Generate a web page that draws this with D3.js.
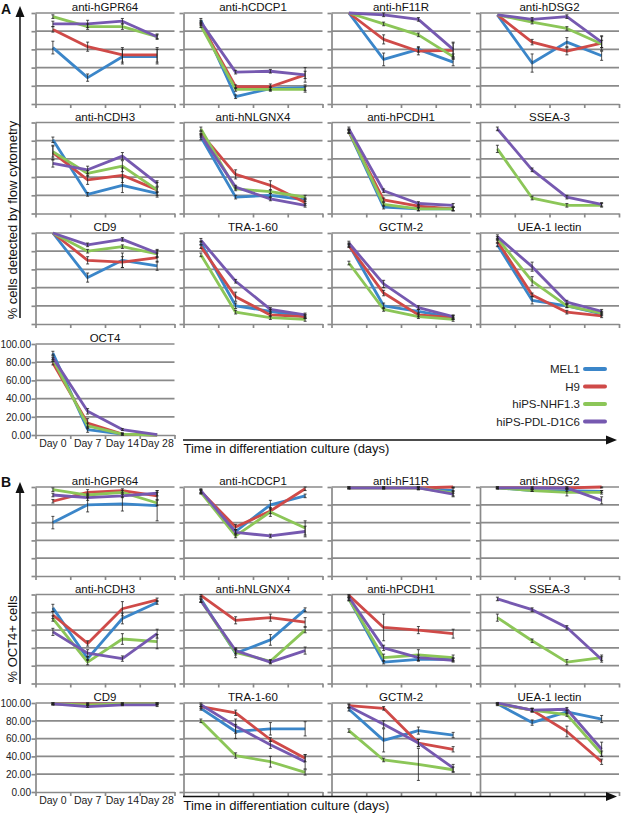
<!DOCTYPE html>
<html><head><meta charset="utf-8">
<script src="https://cdn.jsdelivr.net/npm/d3@7"></script>
<style>body{margin:0;background:#fff}svg{display:block;font-family:"Liberation Sans",Arial,sans-serif}</style>
</head><body><svg id="c" width="622" height="814"></svg>
<script>
// ---------- data ----------
const days = ["Day 0", "Day 7", "Day 14", "Day 28"];
const seriesNames = ["MEL1", "H9", "hiPS-NHF1.3", "hiPS-PDL-D1C6"];
const seriesColors = ["#3b86c9", "#cf4a48", "#8cc658", "#7659b0"];
const yTicks = [0, 20, 40, 60, 80, 100];

const titlesA = ["anti-hGPR64","anti-hCDCP1","anti-hF11R","anti-hDSG2","anti-hCDH3","anti-hNLGNX4","anti-hPCDH1","SSEA-3","CD9","TRA-1-60","GCTM-2","UEA-1 lectin","OCT4"];
const titlesB = ["anti-hGPR64","anti-hCDCP1","anti-hF11R","anti-hDSG2","anti-hCDH3","anti-hNLGNX4","anti-hPCDH1","SSEA-3","CD9","TRA-1-60","GCTM-2","UEA-1 lectin"];

// each panel: [MEL1, H9, hiPS-NHF1.3, hiPS-PDL-D1C6] values for Day 0/7/14/28
const aGPR64  = [[62,29,52,52],[82,63,54,54],[96,85,85,74],[88,88,91,74]];
const aCDCP1  = [[92,8,17,18],[88,19,19,32],[86,16,16,16],[90,35,36,32]];
const aF11R   = [[100,49,60,46],[100,71,58,59],[100,88,76,52],[100,98,93,60]];
const aDSG2   = [[98,45,68,53],[98,68,58,67],[98,90,83,66],[98,93,96,68]];
const aCDH3   = [[81,21,31,22],[67,37,42,26],[68,44,52,26],[55,48,63,33]];
const aNLGNX4 = [[84,18,20,15],[88,43,31,12],[93,27,24,18],[86,29,16,9]];
const aPCDH1  = [[90,7,5,5],[90,15,8,5],[91,10,5,5],[93,25,11,9]];
const aSSEA3  = [null,null,[71,17,9,9],[93,48,18,10]];
const aCD9    = [[100,51,70,64],[100,70,68,73],[100,80,85,77],[100,87,93,78]];
const aTRA160 = [[89,20,14,8],[85,30,10,8],[76,13,7,5],[92,47,16,10]];
const aGCTM2  = [[87,20,14,7],[86,34,10,7],[67,16,8,5],[89,44,18,8]];
const aUEA1   = [[87,26,20,11],[91,32,13,9],[94,47,20,12],[96,63,24,14]];
const aOCT4   = [[90,6,1,0],[79,13,1,0],[83,10,1,0],[85,26,6,0.5]];

const aGPR64Err  = [[7,4,8,8],[3,5,8,8],[2,3,3,2],[3,4,3,3]];
const aCDCP1Err  = [[2,2,2,3],[2,2,3,8],[2,2,2,3],[2,2,2,4]];
const aF11RErr   = [[0,7,3,4],[0,5,4,8],[0,2,2,3],[0,2,2,8]];
const aDSG2Err   = [[0,10,5,5],[0,3,4,8],[0,2,2,4],[0,2,2,6]];
const aCDH3Err   = [[3,2,8,2],[8,5,8,8],[6,3,6,3],[4,4,4,3]];
const aNLGNX4Err = [[3,2,2,2],[2,5,5,3],[2,2,2,2],[2,2,2,2]];
const aPCDH1Err  = [[2,2,2,2],[2,2,2,2],[2,2,2,2],[2,2,2,2]];
const aSSEA3Err  = [null,null,[4,2,2,2],[2,2,2,2]];
const aCD9Err    = [[0,5,8,5],[0,4,6,5],[0,2,2,4],[0,2,2,4]];
const aTRA160Err = [[2,3,2,2],[2,5,2,2],[2,2,2,2],[2,2,2,2]];
const aGCTM2Err  = [[2,3,2,2],[2,3,2,2],[2,2,2,2],[2,4,2,2]];
const aUEA1Err   = [[2,4,2,2],[2,2,2,2],[2,5,2,2],[2,5,2,2]];
const aOCT4Err   = [[2,3,1,0],[2,5,1,0],[2,3,1,0],[2,3,1,0]];

const bGPR64  = [[60,80,81,79],[84,94,96,90],[97,91,94,82],[91,88,90,93]];
const bCDCP1  = [[95,50,80,90],[95,55,73,98],[94,45,72,54],[96,49,45,50]];
const bF11R   = [[99,99,99,96],[99,99,99,100],[99,99,99,93],[99,99,99,92]];
const bDSG2   = [[99,96,96,95],[99,99,99,100],[99,96,94,94],[99,99,99,85]];
const bCDH3   = [[85,28,73,91],[77,45,84,94],[73,24,50,47],[58,34,28,56]];
const bNLGNX4 = [[95,34,49,83],[99,71,74,69],[93,35,25,60],[93,37,24,37]];
const bPCDH1  = [[95,24,27,27],[99,63,60,56],[95,29,32,29],[97,40,29,26]];
const bSSEA3  = [null,null,[74,48,24,29],[95,83,63,27]];
const bCD9    = [[99,99,99,99],[99,99,99,99],[99,98,99,99],[99,96,98,98]];
const bTRA160 = [[94,68,71,71],[96,89,59,38],[80,41,34,22],[98,74,53,34]];
const bGCTM2  = [[93,58,69,64],[97,94,55,48],[69,36,31,25],[96,76,55,27]];
const bUEA1   = [[99,78,90,82],[99,92,68,34],[99,92,87,43],[100,92,93,48]];

const bGPR64Err  = [[7,8,8,17],[2,3,2,4],[2,2,2,3],[2,3,2,3]];
const bCDCP1Err  = [[2,2,5,2],[2,3,3,2],[2,2,5,8],[2,3,2,6]];
const bF11RErr   = [[1,1,2,3],[1,1,2,1],[1,1,2,3],[1,1,1,3]];
const bDSG2Err   = [[1,1,1,1],[1,1,1,1],[1,1,4,2],[1,1,1,4]];
const bCDH3Err   = [[4,2,6,2],[4,3,8,2],[3,3,6,8],[4,4,3,5]];
const bNLGNX4Err = [[3,5,6,2],[2,4,4,5],[2,3,2,3],[2,3,2,4]];
const bPCDH1Err  = [[2,2,2,2],[2,15,4,5],[2,4,6,3],[2,3,3,2]];
const bSSEA3Err  = [null,null,[4,2,3,3],[2,2,2,3]];
const bCD9Err    = [[1,1,1,1],[1,1,1,1],[1,1,1,1],[1,1,1,2]];
const bTRA160Err = [[2,8,7,8],[2,3,2,4],[2,3,6,3],[2,8,4,8]];
const bGCTM2Err  = [[2,13,4,3],[2,2,4,3],[2,2,18,3],[2,4,4,4]];
const bUEA1Err   = [[2,3,2,4],[1,2,6,3],[1,2,2,3],[1,2,2,8]];

const dataA = [aGPR64,aCDCP1,aF11R,aDSG2,aCDH3,aNLGNX4,aPCDH1,aSSEA3,aCD9,aTRA160,aGCTM2,aUEA1,aOCT4];
const errA  = [aGPR64Err,aCDCP1Err,aF11RErr,aDSG2Err,aCDH3Err,aNLGNX4Err,aPCDH1Err,aSSEA3Err,aCD9Err,aTRA160Err,aGCTM2Err,aUEA1Err,aOCT4Err];
const dataB = [bGPR64,bCDCP1,bF11R,bDSG2,bCDH3,bNLGNX4,bPCDH1,bSSEA3,bCD9,bTRA160,bGCTM2,bUEA1];
const errB  = [bGPR64Err,bCDCP1Err,bF11RErr,bDSG2Err,bCDH3Err,bNLGNX4Err,bPCDH1Err,bSSEA3Err,bCD9Err,bTRA160Err,bGCTM2Err,bUEA1Err];

// ---------- layout ----------
const svg = d3.select("#c");
const colLeft = [35.5, 183.5, 331.5, 480];
const plotW = 139;
const rowTopA = [13, 122.5, 233, 344], hA = 91;
const rowTopB = [487, 594.5, 703], hB = 89;
const gridColor = "#8a8a8a";
const FONT = '"Liberation Sans",Arial,sans-serif';

function drawPanel(x0, y0, w, h, title, data, err, labels) {
  const g = svg.append("g");
  const x = d3.scaleBand().domain(days).range([x0, x0 + w]);
  const xb = d3.scaleLinear().domain([0, 4]).range([x0, x0 + w]);
  const y = d3.scaleLinear().domain([0, 100]).range([y0 + h, y0]);

  g.selectAll("line.grid").data(yTicks.slice(1)).join("line")
    .attr("x1", x0).attr("x2", x0 + w)
    .attr("y1", d => y(d)).attr("y2", d => y(d))
    .attr("stroke", gridColor).attr("stroke-width", 1.7);

  const ya = g.append("g").attr("transform", `translate(${x0},0)`)
    .call(d3.axisLeft(y).tickValues(yTicks).tickSize(4).tickSizeOuter(0).tickPadding(0.5)
      .tickFormat(labels ? d3.format(".2f") : () => ""));
  const xa = g.append("g").attr("transform", `translate(0,${y0 + h})`)
    .call(d3.axisBottom(xb).tickValues([0,1,2,3,4]).tickSize(4).tickSizeOuter(0).tickFormat(() => ""));
  [ya, xa].forEach(a => {
    a.selectAll("path,line").attr("stroke", gridColor).attr("stroke-width", 1.7);
    a.selectAll("text").attr("fill", "#222").style("font-size", "10px").style("font-family", FONT);
  });
  if (labels) {
    const xl = g.append("g").attr("transform", `translate(0,${y0 + h})`)
      .call(d3.axisBottom(x).tickSize(0).tickPadding(5));
    xl.select("path").remove();
    xl.selectAll("text").attr("fill", "#222").style("font-size", "10.5px").style("font-family", FONT);
  }

  g.append("text").attr("x", x0 + w / 2).attr("y", y0 - 2)
    .attr("text-anchor", "middle").attr("fill", "#111").style("font-size", "11.5px").text(title);

  const cx = i => x(days[i]) + x.bandwidth() / 2;
  const line = d3.line().x((d, i) => cx(i)).y(d => y(d));
  data.forEach((s, k) => {
    if (!s) return;
    g.append("path").attr("d", line(s)).attr("fill", "none")
      .attr("stroke", seriesColors[k]).attr("stroke-width", 2.8).attr("stroke-linejoin", "round");
  });
  data.forEach((s, k) => {
    if (!s || !err[k]) return;
    s.forEach((v, i) => {
      const e = err[k][i];
      if (!e) return;
      const xx = cx(i);
      const lo = y(Math.max(0, v - e)), hi = y(Math.min(100, v + e));
      g.append("line").attr("x1", xx).attr("x2", xx).attr("y1", lo).attr("y2", hi).attr("stroke", "#222").attr("stroke-width", 0.8);
      [lo, hi].forEach(yy => g.append("line").attr("x1", xx - 1.5).attr("x2", xx + 1.5).attr("y1", yy).attr("y2", yy).attr("stroke", "#222").attr("stroke-width", 0.8));
    });
  });
}

titlesA.forEach((t, i) => {
  const r = Math.floor(i / 4), c = i % 4;
  drawPanel(colLeft[c], rowTopA[r], plotW, hA, t, dataA[i], errA[i], i === 12);
});
titlesB.forEach((t, i) => {
  const r = Math.floor(i / 4), c = i % 4;
  drawPanel(colLeft[c], rowTopB[r], plotW, hB, t, dataB[i], errB[i], i === 8);
});

// ---------- arrows, labels ----------
function vArrow(x, yTip, yBottom) {
  svg.append("line").attr("x1", x).attr("x2", x).attr("y1", yTip + 8).attr("y2", yBottom).attr("stroke", "#111").attr("stroke-width", 1.5);
  svg.append("path").attr("d", `M${x},${yTip} L${x - 4.5},${yTip + 11} L${x + 4.5},${yTip + 11} Z`).attr("fill", "#111");
}
function hArrow(y, x1, xTip) {
  svg.append("line").attr("x1", x1).attr("x2", xTip - 8).attr("y1", y).attr("y2", y).attr("stroke", "#111").attr("stroke-width", 1.5);
  svg.append("path").attr("d", `M${xTip},${y} L${xTip - 11},${y - 4.5} L${xTip - 11},${y + 4.5} Z`).attr("fill", "#111");
}
vArrow(20, 6, 318);
vArrow(20, 482, 684);
hArrow(440, 183, 617);
hArrow(796.5, 183, 617);

svg.append("text").attr("transform", "translate(17,220) rotate(-90)").attr("text-anchor", "middle")
  .attr("fill", "#111").style("font-size", "13px").text("% cells detected by flow cytometry");
svg.append("text").attr("transform", "translate(17,639) rotate(-90)").attr("text-anchor", "middle")
  .attr("fill", "#111").style("font-size", "13px").text("% OCT4+ cells");
svg.append("text").attr("x", 183.5).attr("y", 452.5).attr("fill", "#111").style("font-size", "13px").text("Time in differentiation culture (days)");
svg.append("text").attr("x", 183.5).attr("y", 810).attr("fill", "#111").style("font-size", "13px").text("Time in differentiation culture (days)");

svg.append("text").attr("x", 1).attr("y", 14).style("font-size", "14px").style("font-weight", "bold").attr("fill", "#111").text("A");
svg.append("text").attr("x", 1).attr("y", 487).style("font-size", "14px").style("font-weight", "bold").attr("fill", "#111").text("B");

// ---------- legend ----------
const legY = [369, 386.5, 404, 421.5];
seriesNames.forEach((n, k) => {
  svg.append("text").attr("x", 580).attr("y", legY[k] + 4).attr("text-anchor", "end")
    .attr("fill", "#222").style("font-size", "11.5px").text(n);
  svg.append("line").attr("x1", 585).attr("x2", 605).attr("y1", legY[k]).attr("y2", legY[k])
    .attr("stroke", seriesColors[k]).attr("stroke-width", 4).attr("stroke-linecap", "round");
});
</script></body></html>
